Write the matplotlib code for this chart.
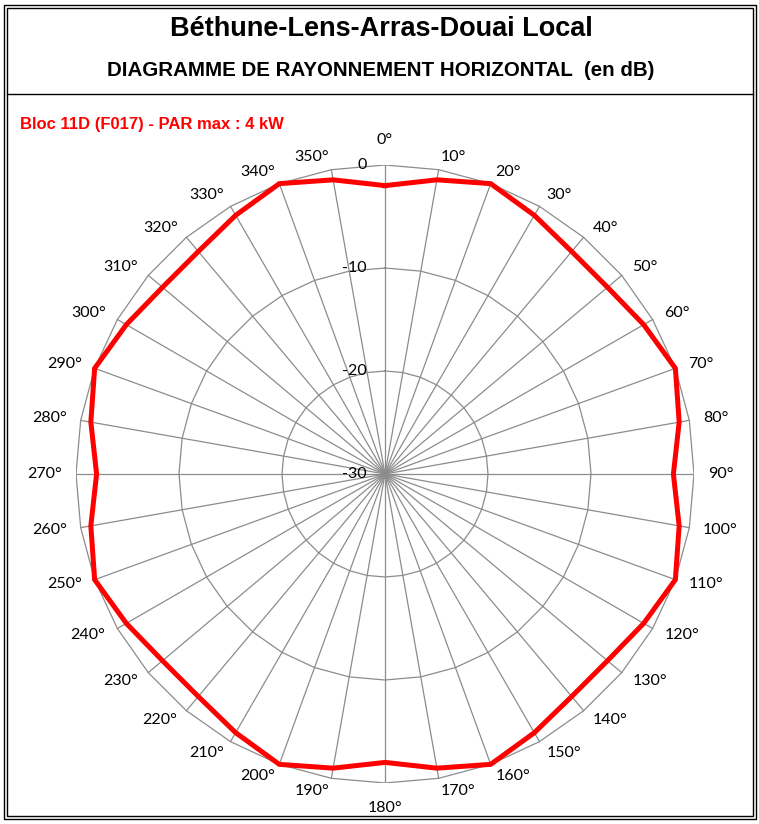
import numpy as np
import matplotlib.pyplot as plt
from matplotlib.patches import Rectangle
from matplotlib.lines import Line2D

# Azimuths (deg) and relative gain (dB)
angles_deg = list(range(0, 360, 10))
gain_db = [-2, -1, 0, -1, -1.8, -1.8, -1, 0, -1,
           -2, -1, 0, -1, -1.8, -1.8, -1, 0, -1,
           -2, -1, 0, -1, -1.8, -1.8, -1, 0, -1,
           -2, -1, 0, -1, -1.8, -1.8, -1, 0, -1]
angle_labels = [f"{a}°" for a in angles_deg]
ring_levels = [-30, -20, -10, 0]
ring_labels = ["-30", "-20", "-10", "0"]

title = "Béthune-Lens-Arras-Douai Local"
subtitle = "DIAGRAMME DE RAYONNEMENT HORIZONTAL  (en dB)"
series_label = "Bloc 11D (F017) - PAR max : 4 kW"

W, H = 759, 824
PT = 72 / 100  # points per pixel at dpi 100
fig = plt.figure(figsize=(W / 100, H / 100), dpi=100)
fig.patch.set_facecolor('white')

bold_font = ['Liberation Sans', 'DejaVu Sans']
label_font = ['Lato', 'DejaVu Sans']


# double frame and separator (pixel coords -> figure fraction)
def px_rect(x0, y0, x1, y1):
    return Rectangle((x0 / W, 1 - y1 / H), (x1 - x0) / W, (y1 - y0) / H,
                     transform=fig.transFigure, fill=False, edgecolor='black', lw=1.0)


fig.add_artist(px_rect(4, 5, 755.5, 819))
fig.add_artist(px_rect(7, 8, 752.5, 816))
fig.add_artist(Line2D([7 / W, 752.5 / W], [1 - 94 / H, 1 - 94 / H],
                      transform=fig.transFigure, color='black', lw=1.0))

fig.text(381 / W, 1 - 29 / H, title, ha='center', va='center',
         fontsize=19.5, fontweight='bold', family=bold_font)
fig.text(381 / W, 1 - 71 / H, subtitle, ha='center', va='center',
         fontsize=14.8, fontweight='bold', family=bold_font)
fig.text(20 / W, 1 - 125 / H, series_label, ha='left', va='center',
         fontsize=12, fontweight='bold', color='red', family=bold_font)

# radar area: centre (385, 474), radius 309 px for 0 dB; -30 dB at centre
cx, cy, R = 385, 474, 309
ax = fig.add_axes([(cx - R) / W, (H - cy - R) / H, 2 * R / W, 2 * R / H])
rmin, rmax = ring_levels[0], ring_levels[-1]
span = rmax - rmin
ax.set_xlim(-span, span)
ax.set_ylim(-span, span)
ax.set_aspect('equal')
ax.axis('off')

theta = np.deg2rad(angles_deg)
theta_closed = np.append(theta, theta[0])


def to_xy(t, v):
    r = np.asarray(v, dtype=float) - rmin
    return r * np.sin(t), r * np.cos(t)


grid_col = '#8c8c8c'
for lev in ring_levels[1:]:
    x, y = to_xy(theta_closed, [lev] * len(theta_closed))
    ax.plot(x, y, color=grid_col, lw=0.9, zorder=1)
for t in theta:
    x, y = to_xy(np.array([t, t]), [rmin, rmax])
    ax.plot(x, y, color=grid_col, lw=0.9, zorder=1)

x, y = to_xy(theta_closed, np.append(gain_db, gain_db[0]))
ax.plot(x, y, color='#ff0000', lw=3.6, zorder=3, solid_joinstyle='miter')

# category labels placed next to the outer ring vertex, Excel-style
for t, lab in zip(theta, angle_labels):
    s, c = np.sin(t), np.cos(t)
    if abs(s) < 1e-6:
        ha, dx, dy = 'center', 0, 25 * np.sign(c)
    else:
        ha = 'left' if s > 0 else 'right'
        dx, dy = 13.7 * s, 12.7 * c
    ax.annotate(lab, xy=to_xy(t, rmax), xytext=(dx * PT, dy * PT),
                textcoords='offset points', ha=ha, va='center',
                fontsize=11.5, family=label_font, annotation_clip=False)

for lev, lab in zip(ring_levels, ring_labels):
    ax.annotate(lab, xy=to_xy(0.0, lev), xytext=(-13, 0), textcoords='offset points',
                ha='right', va='center', fontsize=11.5, family=label_font, zorder=4)

fig.savefig('out.png', dpi=100)
